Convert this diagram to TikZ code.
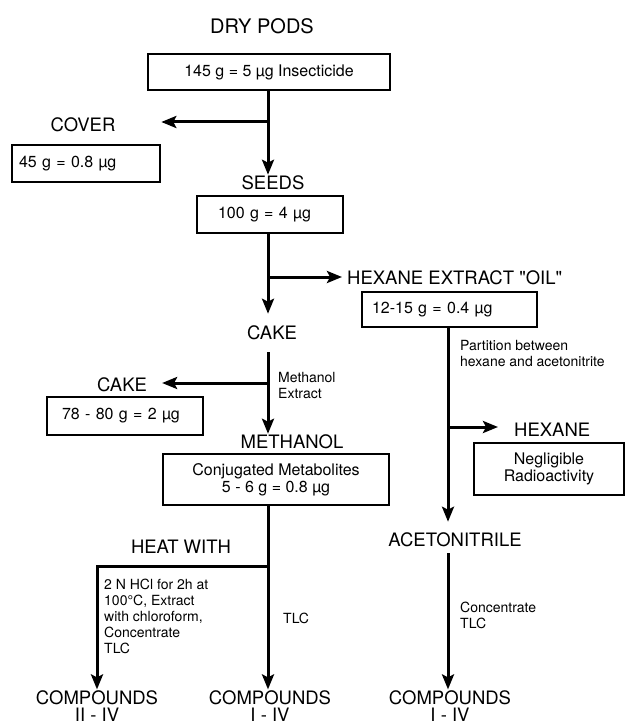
\documentclass[tikz,border=0pt]{standalone}
\usepackage{fontspec}
\setmainfont{TeX Gyre Heros}[Ligatures=TeXOff]
\usetikzlibrary{arrows.meta}
\tikzstyle{title}=[inner sep=1pt,font=\fontsize{20}{22}\selectfont]
\tikzstyle{stage}=[inner sep=1pt,font=\fontsize{18.5}{17}\selectfont,align=center]
\tikzstyle{note}=[inner sep=0pt,font=\fontsize{14}{16}\selectfont,align=left]
\tikzstyle{box}=[draw=black,line width=2.6pt,inner sep=0pt,
  font=\fontsize{16}{17}\selectfont,align=center]
\tikzstyle{flow}=[line width=3pt]
\tikzstyle{flowarr}=[line width=3pt,-{Stealth[length=15pt,width=12pt,inset=3pt]}]

\begin{document}
\begin{tikzpicture}[x=1pt,y=-1pt]
    \useasboundingbox (0,0) rectangle (628,727);
    \node [style=title] (pods) at (262,26) {DRY PODS};
    \node [style=box, minimum width=242pt, minimum height=36pt] (podsbox) at (269,72) {145 g = 5 µg Insecticide};
    \node [style=stage] (cover) at (83,125) {COVER};
    \node [style=box, minimum height=37pt, text width=134pt, inner xsep=7pt, align=left] (coverbox) at (86,163.5) {45 g = 0.8 µg};
    \node [style=stage] (seeds) at (273,183) {SEEDS};
    \node [style=box, minimum height=37pt, text width=104pt, inner xsep=21pt, align=left] (seedsbox) at (270,214.5) {100 g = 4 µg};
    \node [style=stage, anchor=west] (oil) at (346,278) {HEXANE EXTRACT "OIL"};
    \node [style=box, minimum height=35pt, text width=155pt, inner xsep=10pt, align=left] (oilbox) at (449.5,309.5) {12-15 g = 0.4 µg};
    \node [style=stage] (cake) at (272,333) {CAKE};
    \node [style=note, anchor=west] (meoh) at (278,385) {Methanol\\Extract};
    \node [style=stage] (cakel) at (122,385) {CAKE};
    \node [style=box, minimum height=38pt, text width=126pt, inner xsep=15pt, align=left] (cakebox) at (125,416) {78 - 80 g = 2 µg};
    \node [style=stage] (methanol) at (292,442) {METHANOL};
    \node [style=box, minimum width=226pt, minimum height=51pt] (methbox) at (276,479.5) {Conjugated Metabolites\\5 - 6 g = 0.8 µg};
    \node [style=stage] (heat) at (181,547) {HEAT WITH};
    \node [style=note, anchor=north west] (hcl) at (104,579) {2 N HCl for 2h at\\100°C, Extract\\with chloroform,\\Concentrate\\TLC};
    \node [style=note, anchor=west] (tlc) at (283,618) {TLC};
    \node [style=stage] (comp1) at (97,706) {COMPOUNDS\\II - IV};
    \node [style=stage] (comp2) at (270,706) {COMPOUNDS\\I - IV};
    \node [style=note, anchor=north west] (part) at (460,340) {Partition between\\hexane and acetonitrite};
    \node [style=stage, anchor=west] (hexane) at (513,430) {HEXANE};
    \node [style=box, minimum width=150pt, minimum height=52pt] (hexbox) at (549,469) {Negligible\\Radioactivity};
    \node [style=stage] (aceto) at (455,540) {ACETONITRILE};
    \node [style=note, anchor=west] (conc) at (460,615) {Concentrate\\TLC};
    \node [style=stage] (comp3) at (450,706) {COMPOUNDS\\I - IV};
    \coordinate (j1) at (268,122);
    \coordinate (j2) at (268,277);
    \coordinate (j3) at (268,383);
    \coordinate (j4) at (268,566);
    \coordinate (j5) at (448,427);
    \draw [style=flow] (podsbox.south -| j1) to (j1);
    \draw [style=flowarr] (j1) to (seeds.north -| j1);
    \draw [style=flowarr] (j1) to (j1 -| coverbox.east);
    \draw [style=flow] (seedsbox.south -| j2) to (j2);
    \draw [style=flowarr, shorten >=11pt] (j2) to (cake.north -| j2);
    \draw [style=flowarr, shorten >=4pt] (j2) to (j2 -| oil.west);
    \draw [style=flow, shorten <=11pt] (cake.south -| j3) to (j3);
    \draw [style=flowarr, shorten >=14pt] (j3) to (j3 -| cakel.east);
    \draw [style=flowarr] (j3) to (methanol.north -| j3);
    \draw [style=flow] (methbox.south -| j4) to (j4);
    \draw [style=flowarr] (j4) to (comp2.north -| j4);
    \draw [style=flowarr] (j4) -| (comp1.north);
    \draw [style=flow] (oilbox.south -| j5) to (j5);
    \draw [style=flowarr, shorten >=15pt] (j5) to (j5 -| hexane.west);
    \draw [style=flowarr, shorten >=10pt] (j5) to (aceto.north -| j5);
    \draw [style=flowarr, shorten <=5pt] (aceto.south -| j5) to (comp3.north -| j5);
\end{tikzpicture}
\end{document}
